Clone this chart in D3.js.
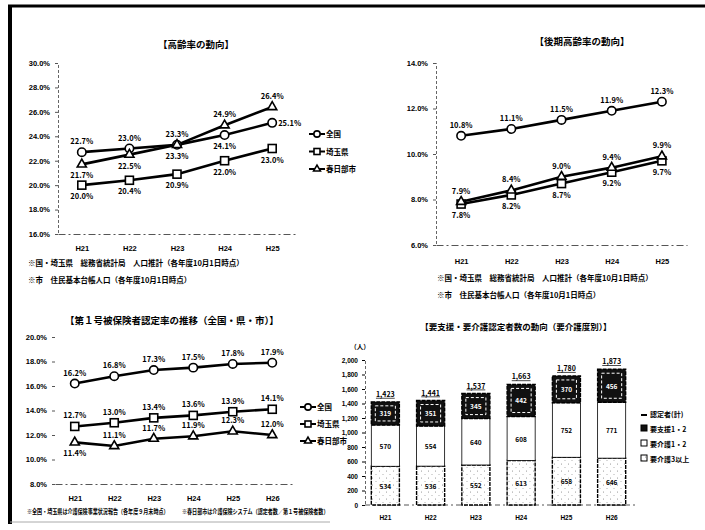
<!DOCTYPE html>
<html>
<head>
<meta charset="utf-8">
<script src="https://cdn.jsdelivr.net/npm/d3@7"></script>
<style>
  body { margin: 0; background: #fff; }
  svg { font-family: "Noto Sans CJK JP", "Noto Sans", sans-serif; font-weight: 700; }
  .tick-lbl { font-size: 7.5px; }
  .val { font-size: 7.5px; }
  .title { font-size: 9.5px; }
  .note { font-size: 7.5px; }
</style>
</head>
<body>
<div id="chart"></div>
<script>
// ---- data ----
const years5 = ['H21', 'H22', 'H23', 'H24', 'H25'];
const years6 = ['H21', 'H22', 'H23', 'H24', 'H25', 'H26'];
const seriesNames = ['全国', '埼玉県', '春日部市'];

// 高齢率
const agingNation = [22.7, 23.0, 23.3, 24.1, 25.1];
const agingSaitama = [20.0, 20.4, 20.9, 22.0, 23.0];
const agingKasukabe = [21.7, 22.5, 23.3, 24.9, 26.4];
const agingTicks = [16, 18, 20, 22, 24, 26, 28, 30];

// 後期高齢率
const lateNation = [10.8, 11.1, 11.5, 11.9, 12.3];
const lateSaitama = [7.8, 8.2, 8.7, 9.2, 9.7];
const lateKasukabe = [7.9, 8.4, 9.0, 9.4, 9.9];
const lateTicks = [6, 8, 10, 12, 14];

// 第1号被保険者認定率
const certNation = [16.2, 16.8, 17.3, 17.5, 17.8, 17.9];
const certSaitama = [12.7, 13.0, 13.4, 13.6, 13.9, 14.1];
const certKasukabe = [11.4, 11.1, 11.7, 11.9, 12.3, 12.0];
const certTicks = [8, 10, 12, 14, 16, 18, 20];

// 要支援・要介護認定者数
const careLevels = ['要介護3以上', '要介護1・2', '要支援1・2'];
const care3plus = [534, 536, 552, 613, 658, 646];
const care12 = [570, 554, 640, 608, 752, 771];
const support12 = [319, 351, 345, 442, 370, 456];
const careTicks = [0, 200, 400, 600, 800, 1000, 1200, 1400, 1600, 1800, 2000];

const W = 705, H = 530;
const svg = d3.select('#chart').append('svg')
  .attr('width', W).attr('height', H);

// patterns for the bars
const defs = svg.append('defs');
const stip = defs.append('pattern').attr('id', 'stipple')
  .attr('width', 7).attr('height', 7).attr('patternUnits', 'userSpaceOnUse');
stip.append('rect').attr('width', 7).attr('height', 7).attr('fill', '#fff');
stip.append('circle').attr('cx', 1.5).attr('cy', 2).attr('r', 0.5).attr('fill', '#777');
stip.append('circle').attr('cx', 5).attr('cy', 5.5).attr('r', 0.5).attr('fill', '#999');

// page frame
svg.append('line').attr('x1', 8).attr('x2', 705).attr('y1', 6).attr('y2', 6)
  .attr('stroke', '#000').attr('stroke-width', 3);
svg.append('line').attr('x1', 10).attr('x2', 10).attr('y1', 5).attr('y2', 524)
  .attr('stroke', '#000').attr('stroke-width', 4);
svg.append('line').attr('x1', 10).attr('x2', 330).attr('y1', 522).attr('y2', 522)
  .attr('stroke', '#aaa').attr('stroke-width', 1);

function marker(g, shape, x, y, k = 1) {
  if (shape === 'circle') {
    g.append('circle').attr('cx', x).attr('cy', y).attr('r', 4.2 * k)
      .attr('fill', '#fff').attr('stroke', '#000').attr('stroke-width', 1.6);
  } else if (shape === 'square') {
    g.append('rect').attr('x', x - 4 * k).attr('y', y - 4 * k)
      .attr('width', 8 * k).attr('height', 8 * k)
      .attr('fill', '#fff').attr('stroke', '#000').attr('stroke-width', 1.6);
  } else {
    g.append('path').attr('d', d3.symbol(d3.symbolTriangle, 36 * k * k)())
      .attr('transform', `translate(${x},${y})`)
      .attr('fill', '#fff').attr('stroke', '#000').attr('stroke-width', 1.6);
  }
}

// generic line chart
function lineChart(cfg) {
  const g = svg.append('g');
  const x = d3.scalePoint().domain(cfg.cats).range(cfg.xRange).padding(0.5);
  const y = d3.scaleLinear().domain(cfg.yDomain).range(cfg.yRange);

  // y axis
  const yAxis = g.append('g')
    .attr('transform', `translate(${cfg.xRange[0]},0)`)
    .call(d3.axisLeft(y).tickValues(cfg.ticks).tickSize(3)
      .tickFormat(d => d3.format('.1f')(d) + '%'));
  yAxis.select('.domain').attr('stroke', '#666').attr('stroke-dasharray', cfg.showYLine ? '3,2' : '0,100');
  yAxis.selectAll('.tick line').attr('stroke', '#555');
  yAxis.selectAll('.tick text').attr('class', 'tick-lbl').attr('x', -8).attr('fill', '#000');

  // x axis
  const xAxis = g.append('g')
    .attr('transform', `translate(0,${cfg.yRange[0]})`)
    .call(d3.axisBottom(x).tickSize(0).tickPadding(cfg.xPad));
  xAxis.select('.domain').attr('stroke', '#555').attr('stroke-width', 1.2).attr('stroke-dasharray', '7,3,2,3');
  xAxis.selectAll('.tick text').attr('class', 'tick-lbl').attr('fill', '#000');

  const line = d3.line().x((d, i) => x(cfg.cats[i])).y(d => y(d));
  cfg.series.forEach(s => {
    g.append('path').datum(s.values).attr('d', line)
      .attr('fill', 'none').attr('stroke', '#000').attr('stroke-width', 2.6);
  });
  cfg.series.forEach(s => {
    s.values.forEach((v, i) => {
      marker(g, s.shape, x(cfg.cats[i]), y(v));
      const pos = s.pos[i];
      let dx = 0, dy = -8, anchor = 'middle';
      if (pos === 'b') dy = 14;
      if (pos === 'r') { dx = 6; dy = 3; anchor = 'start'; }
      g.append('text').attr('class', 'val')
        .attr('x', x(cfg.cats[i]) + dx).attr('y', y(v) + dy)
        .attr('text-anchor', anchor).text(d3.format('.1f')(v) + '%');
    });
  });

  g.append('text').attr('class', 'title').attr('text-anchor', 'middle')
    .attr('x', cfg.titleX).attr('y', cfg.titleY).text(cfg.title);

  if (cfg.legend) {
    cfg.series.forEach((s, i) => {
      const ly = cfg.legend.y + i * cfg.legend.step;
      const lx = cfg.legend.x;
      g.append('line').attr('x1', lx).attr('x2', lx + 16).attr('y1', ly).attr('y2', ly)
        .attr('stroke', '#000').attr('stroke-width', 2);
      marker(g, s.shape, lx + 8, ly, 0.75);
      g.append('text').attr('class', 'val').attr('x', lx + 17).attr('y', ly + 3)
        .text(seriesNames[i]);
    });
  }
  (cfg.notes || []).forEach((t, i) => {
    const nx = cfg.noteX + i * (cfg.noteDX || 0);
    const ny = cfg.noteY + i * cfg.noteStep;
    const nt = g.append('text').attr('class', 'note').text(t);
    if (cfg.noteScale) {
      nt.style('font-size', '6.5px')
        .attr('transform', `translate(${nx},${ny}) scale(${cfg.noteScale},1)`);
    } else {
      nt.attr('x', nx).attr('y', ny);
    }
  });
}

const popNotes = [
  '※国・埼玉県　総務省統計局　人口推計（各年度10月1日時点）',
  '※市　住民基本台帳人口（各年度10月1日時点）'
];

lineChart({
  cats: years5, xRange: [58, 296], yDomain: [16, 30], yRange: [234, 63],
  ticks: agingTicks, showYLine: true, xPad: 12,
  title: '【高齢率の動向】', titleX: 196, titleY: 48,
  series: [
    { values: agingNation, shape: 'circle', pos: ['t', 't', 't', 'b', 'r'] },
    { values: agingSaitama, shape: 'square', pos: ['b', 'b', 'b', 'b', 'b'] },
    { values: agingKasukabe, shape: 'triangle', pos: ['b', 'b', 'b', 't', 't'] }
  ],
  legend: { x: 309, y: 134, step: 17.5 },
  notes: popNotes, noteX: 28, noteY: 266, noteStep: 17
});

lineChart({
  cats: years5, xRange: [436, 687], yDomain: [6, 14], yRange: [245, 63],
  ticks: lateTicks, showYLine: true, xPad: 14,
  title: '【後期高齢率の動向】', titleX: 582, titleY: 45,
  series: [
    { values: lateNation, shape: 'circle', pos: ['t', 't', 't', 't', 't'] },
    { values: lateSaitama, shape: 'square', pos: ['b', 'b', 'b', 'b', 'b'] },
    { values: lateKasukabe, shape: 'triangle', pos: ['t', 't', 't', 't', 't'] }
  ],
  notes: popNotes, noteX: 437, noteY: 281, noteStep: 17
});

lineChart({
  cats: years6, xRange: [55, 292], yDomain: [8, 20], yRange: [484, 337],
  ticks: certTicks, showYLine: false, xPad: 12,
  title: '【第１号被保険者認定率の推移（全国・県・市）】', titleX: 172, titleY: 324,
  series: [
    { values: certNation, shape: 'circle', pos: ['t', 't', 't', 't', 't', 't'] },
    { values: certSaitama, shape: 'square', pos: ['t', 't', 't', 't', 't', 't'] },
    { values: certKasukabe, shape: 'triangle', pos: ['b', 't', 't', 't', 't', 't'] }
  ],
  legend: { x: 300, y: 407, step: 17 },
  notes: ['※全国・埼玉県は介護保険事業状況報告（各年度９月末時点）',
    '※春日部市は介護保険システム（認定者数／第１号被保険者数）'],
  noteX: 27, noteY: 514, noteStep: 0, noteDX: 155, noteScale: 0.78
});

// ---- stacked bar chart ----
(function () {
  const g = svg.append('g');
  const x = d3.scaleBand().domain(years6).range([360, 637]).paddingInner(0.38).paddingOuter(0.25);
  const y = d3.scaleLinear().domain([0, 2000]).range([505, 360]);
  const rows = years6.map((yr, i) => ({
    yr, '要介護3以上': care3plus[i], '要介護1・2': care12[i], '要支援1・2': support12[i]
  }));
  const stacked = d3.stack().keys(careLevels)(rows);

  const yAxis = g.append('g').attr('transform', 'translate(365,0)')
    .call(d3.axisLeft(y).tickValues(careTicks).tickSize(3).tickFormat(d3.format(',')));
  yAxis.select('.domain').attr('stroke', '#666').attr('stroke-dasharray', '3,2');
  yAxis.selectAll('.tick text').attr('class', 'tick-lbl').attr('x', -7).attr('fill', '#000')
    .style('font-size', '6.5px');
  g.append('text').attr('class', 'tick-lbl').attr('x', 360).attr('y', 349)
    .attr('text-anchor', 'middle').style('font-size', '6.5px').text('（人）');

  const xAxis = g.append('g').attr('transform', `translate(0,${y(0)})`)
    .call(d3.axisBottom(x).tickSize(0).tickPadding(10));
  xAxis.select('.domain').attr('stroke', '#555').attr('stroke-dasharray', '5,3,2,3')
    .attr('d', `M365,0H637`);
  xAxis.selectAll('.tick text').attr('class', 'tick-lbl').attr('fill', '#000')
    .style('font-size', '6.5px');

  const fills = { '要介護3以上': 'url(#stipple)', '要介護1・2': '#fff', '要支援1・2': '#111' };
  stacked.forEach(layer => {
    const key = layer.key;
    layer.forEach(d => {
      const bx = x(d.data.yr), bw = x.bandwidth();
      const top = y(d[1]), bot = y(d[0]);
      g.append('rect').attr('x', bx).attr('y', top).attr('width', bw).attr('height', bot - top)
        .attr('fill', fills[key]).attr('stroke', '#000')
        .attr('stroke-width', key === '要介護1・2' ? 0.8 : 1.4)
        .attr('stroke-dasharray', key === '要介護1・2' ? '0' : '4,1');
      if (key === '要支援1・2') {
        g.append('rect').attr('x', bx + 4).attr('y', top + 4).attr('width', bw - 8)
          .attr('height', Math.max(0, bot - top - 8)).attr('fill', 'none')
          .attr('stroke', '#fff').attr('stroke-width', 1).attr('stroke-dasharray', '3,2');
      }
      g.append('text').attr('class', 'val').attr('text-anchor', 'middle')
        .attr('x', bx + bw / 2).attr('y', (top + bot) / 2 + 3)
        .attr('fill', key === '要支援1・2' ? '#fff' : '#000')
        .style('font-size', '6.5px')
        .text(d.data[key]);
    });
  });
  // totals
  rows.forEach((r, i) => {
    const tot = care3plus[i] + care12[i] + support12[i];
    g.append('text').attr('class', 'val').attr('text-anchor', 'middle')
      .attr('x', x(r.yr) + x.bandwidth() / 2).attr('y', y(tot) - 5)
      .attr('text-decoration', 'underline').style('font-size', '7px')
      .text(d3.format(',')(tot));
  });

  g.append('text').attr('class', 'title').attr('text-anchor', 'middle')
    .attr('x', 516).attr('y', 330).style('font-size', '8.5px')
    .text('【要支援・要介護認定者数の動向（要介護度別）】');

  // legend
  const legendItems = ['認定者(計)', '要支援1・2', '要介護1・2', '要介護3以上'];
  const legendFills = [null, '#111', '#fff', 'url(#stipple)'];
  legendItems.forEach((t, i) => {
    const ly = 414 + i * 15;
    if (i === 0) {
      g.append('line').attr('x1', 641).attr('x2', 647).attr('y1', ly + 1).attr('y2', ly + 1)
        .attr('stroke', '#000').attr('stroke-width', 2);
    } else {
      g.append('rect').attr('x', 641).attr('y', ly - 4).attr('width', 6).attr('height', 6)
        .attr('fill', legendFills[i]).attr('stroke', '#000').attr('stroke-width', 1);
    }
    g.append('text').attr('class', 'val').attr('x', 650).attr('y', ly + 3)
      .style('font-size', '7px').text(t);
  });
})();
</script>
</body>
</html>
